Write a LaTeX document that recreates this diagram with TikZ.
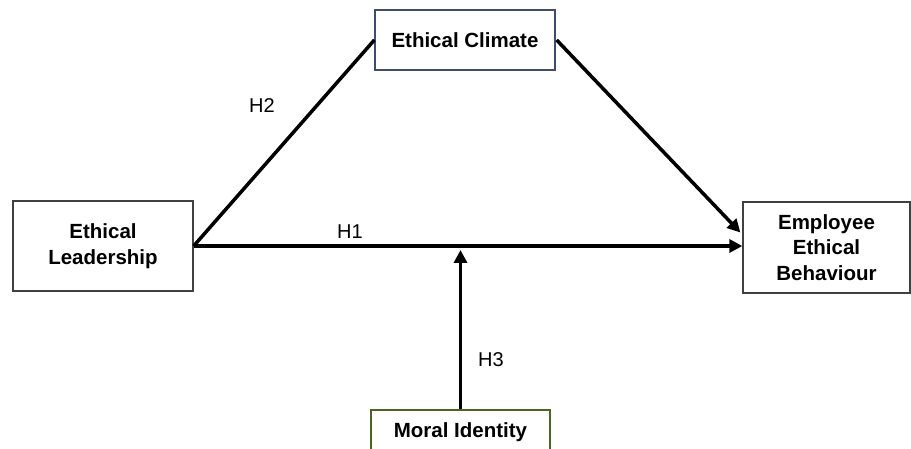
\documentclass[tikz,border=0pt]{standalone}
\usepackage{fontspec}
\setmainfont{Liberation Sans}
\usetikzlibrary{arrows.meta,calc}
\definecolor{bluegray}{HTML}{3F4C6B}
\definecolor{olivegreen}{HTML}{4F6228}
\definecolor{darkgray}{HTML}{404040}
\tikzset{
  box/.style={draw=darkgray, line width=1.3pt, fill=white, align=center,
    font=\fontsize{20.5}{25.5}\selectfont\bfseries, inner sep=0pt},
  link/.style={line width=3.5pt},
  arr/.style={line width=3.5pt, -{Triangle[length=13pt,width=13pt]}},
  hyp/.style={font=\fontsize{20}{24}\selectfont}
}
\begin{document}
\begin{tikzpicture}[x=1pt,y=-1pt]
\useasboundingbox (0,0) rectangle (911,449);
\clip (0,0) rectangle (911,449);
\node[box, minimum width=180pt, minimum height=90pt] (lead) at (103,246) {Ethical\\Leadership};
\node[box, draw=bluegray, minimum width=180pt, minimum height=60pt] (clim) at (465,40) {Ethical Climate};
\node[box, minimum width=167pt, minimum height=91pt] (emp) at (826.5,247.5) {Employee\\Ethical\\Behaviour};
\node[box, draw=olivegreen, minimum width=179pt, minimum height=44pt] (moral) at (460.5,432) {Moral Identity};
\coordinate (h1end) at (lead.east -| emp.west);
\coordinate (diagend) at ($(emp.west)+(-2,-15)$);
\coordinate (vtip) at (460.5,250);
\coordinate (vstart) at (moral.north -| vtip);
\coordinate (climR) at ($(clim.east)+(1,0)$);
\draw[arr] (lead.east) -- (h1end);
\draw[link] (lead.east) -- (clim.west);
\draw[arr] (climR) -- (diagend);
\draw[arr] (vstart) -- (vtip);
\node[hyp] (h2) at (262,106) {H2};
\node[hyp] (h1) at (350,232) {H1};
\node[hyp] (h3) at (491,360) {H3};
\end{tikzpicture}
\end{document}
